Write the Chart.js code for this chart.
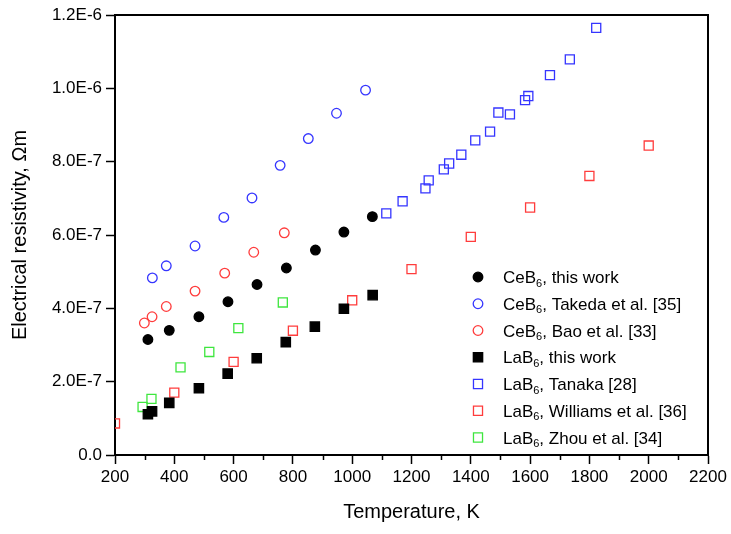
<!DOCTYPE html>
<html>
<head>
<meta charset="utf-8">
<script src="https://cdn.jsdelivr.net/npm/chart.js@4"></script>
<style>
  html, body { margin: 0; padding: 0; background: #fff; }
  #wrap { width: 731px; height: 534px; }
</style>
</head>
<body>
<div id="wrap"><canvas id="myChart" width="731" height="534"></canvas></div>
<script>
// values
const tempCeThis = [311, 383, 483, 581, 679, 778, 876, 972, 1068];
const rhoCeThis = [3.15e-7, 3.40e-7, 3.77e-7, 4.18e-7, 4.65e-7, 5.10e-7, 5.59e-7, 6.08e-7, 6.50e-7];

const tempCeTakeda = [326, 373, 470, 567, 662, 757, 852, 947, 1045];
const rhoCeTakeda = [4.83e-7, 5.16e-7, 5.70e-7, 6.48e-7, 7.01e-7, 7.90e-7, 8.63e-7, 9.32e-7, 9.95e-7];

const tempCeBao = [299, 325, 373, 470, 570, 668, 771];
const rhoCeBao = [3.60e-7, 3.77e-7, 4.05e-7, 4.47e-7, 4.96e-7, 5.53e-7, 6.06e-7];

const tempLaThis = [311, 325, 383, 483, 580, 678, 776, 874, 972, 1069];
const rhoLaThis = [1.11e-7, 1.19e-7, 1.42e-7, 1.82e-7, 2.22e-7, 2.64e-7, 3.08e-7, 3.50e-7, 3.99e-7, 4.36e-7];

const tempLaTanaka = [1115, 1170, 1247, 1258, 1309, 1327, 1368, 1415, 1465, 1493, 1532, 1583, 1594, 1667, 1734, 1823];
const rhoLaTanaka = [6.59e-7, 6.92e-7, 7.27e-7, 7.49e-7, 7.79e-7, 7.95e-7, 8.19e-7, 8.58e-7, 8.82e-7, 9.34e-7, 9.29e-7, 9.68e-7, 9.79e-7, 10.36e-7, 10.79e-7, 11.65e-7];

const tempLaWilliams = [200, 400, 600, 800, 1000, 1200, 1400, 1600, 1800, 2000];
const rhoLaWilliams = [0.86e-7, 1.70e-7, 2.54e-7, 3.39e-7, 4.22e-7, 5.07e-7, 5.95e-7, 6.75e-7, 7.61e-7, 8.44e-7];

const tempLaZhou = [293, 323, 421, 518, 616, 766];
const rhoLaZhou = [1.31e-7, 1.53e-7, 2.39e-7, 2.81e-7, 3.46e-7, 4.16e-7];

const seriesLabels = [
  'CeB6, this work',
  'CeB6, Takeda et al. [35]',
  'CeB6, Bao et al. [33]',
  'LaB6, this work',
  'LaB6, Tanaka [28]',
  'LaB6, Williams et al. [36]',
  'LaB6, Zhou et al. [34]'
];

const xMin = 200, xMax = 2200, xStep = 200;
const yMin = 0, yMax = 1.2e-6, yStep = 2e-7;

const FONT = "'Liberation Sans', Arial, sans-serif";
const BLUE = '#3535ff';
const RED = '#ff3c3c';
const GREEN = '#3ee63e';

function pts(xs, ys) {
  return xs.map((x, i) => ({ x: x, y: ys[i] }));
}

function makeSet(label, xs, ys, style, color, filled, radius) {
  return {
    label: label,
    data: pts(xs, ys),
    pointStyle: style,
    pointRadius: radius,
    pointHoverRadius: radius,
    pointBorderWidth: 1.3,
    borderColor: color,
    backgroundColor: filled ? color : 'rgba(0,0,0,0)',
    clip: 0
  };
}

// frame, minor ticks and legend drawn on top
const extras = {
  id: 'extras',
  afterDraw(chart) {
    const ctx = chart.ctx;
    const a = chart.chartArea;
    const xs = chart.scales.x;
    ctx.save();
    ctx.strokeStyle = '#000';
    ctx.lineWidth = 2;
    ctx.beginPath();
    ctx.moveTo(a.left, a.top);
    ctx.lineTo(a.right, a.top);
    ctx.lineTo(a.right, a.bottom);
    ctx.stroke();

    ctx.lineWidth = 1.5;
    for (let v = xMin + xStep / 2; v < xMax; v += xStep) {
      const px = Math.round(xs.getPixelForValue(v)) + 0.5;
      ctx.beginPath();
      ctx.moveTo(px, a.bottom);
      ctx.lineTo(px, a.bottom + 5);
      ctx.stroke();
    }

    // legend
    const lx = 478, tx = 503, y0 = 277, dy = 26.75;
    chart.data.datasets.forEach((ds, i) => {
      const y = y0 + i * dy;
      ctx.fillStyle = ds.backgroundColor;
      ctx.strokeStyle = ds.borderColor;
      ctx.lineWidth = ds.pointBorderWidth;
      Chart.helpers.drawPoint(ctx, {
        pointStyle: ds.pointStyle,
        radius: ds.pointRadius,
        borderWidth: ds.pointBorderWidth
      }, lx, y);

      const m = ds.label.match(/^(\w+B)(6)(.*)$/);
      ctx.fillStyle = '#000';
      ctx.textBaseline = 'alphabetic';
      ctx.textAlign = 'left';
      ctx.font = '17px ' + FONT;
      ctx.fillText(m[1], tx, y + 6);
      let w = ctx.measureText(m[1]).width;
      ctx.font = '11px ' + FONT;
      ctx.fillText(m[2], tx + w, y + 9.5);
      w += ctx.measureText(m[2]).width;
      ctx.font = '17px ' + FONT;
      ctx.fillText(m[3], tx + w, y + 6);
    });
    ctx.restore();
  }
};

const ctx = document.getElementById('myChart').getContext('2d');
const myChart = new Chart(ctx, {
  type: 'scatter',
  data: {
    datasets: [
      makeSet(seriesLabels[0], tempCeThis, rhoCeThis, 'circle', '#000', true, 4.8),
      makeSet(seriesLabels[1], tempCeTakeda, rhoCeTakeda, 'circle', BLUE, false, 4.8),
      makeSet(seriesLabels[2], tempCeBao, rhoCeBao, 'circle', RED, false, 4.8),
      makeSet(seriesLabels[3], tempLaThis, rhoLaThis, 'rect', '#000', true, 6.6),
      makeSet(seriesLabels[4], tempLaTanaka, rhoLaTanaka, 'rect', BLUE, false, 6.4),
      makeSet(seriesLabels[5], tempLaWilliams, rhoLaWilliams, 'rect', RED, false, 6.4),
      makeSet(seriesLabels[6], tempLaZhou, rhoLaZhou, 'rect', GREEN, false, 6.4)
    ]
  },
  options: {
    responsive: false,
    animation: false,
    layout: { padding: { top: 15, right: 23, left: 0, bottom: 0 } },
    plugins: {
      legend: { display: false },
      tooltip: { enabled: false }
    },
    scales: {
      x: {
        type: 'linear',
        min: xMin,
        max: xMax,
        afterFit: function (scale) { scale.height = 79; },
        ticks: {
          stepSize: xStep,
          color: '#000',
          font: { family: FONT, size: 17 },
          padding: 3,
          maxRotation: 0,
          callback: v => String(v)
        },
        grid: { drawOnChartArea: false, drawTicks: true, tickLength: 9, tickColor: '#000', tickWidth: 1.5 },
        border: { color: '#000', width: 2 },
        title: {
          display: true,
          text: 'Temperature, K',
          color: '#000',
          font: { family: FONT, size: 20, lineHeight: 1.2 },
          padding: { top: 0, bottom: 10 }
        }
      },
      y: {
        type: 'linear',
        min: yMin,
        max: yMax,
        afterFit: function (scale) { scale.width = 115; },
        ticks: {
          stepSize: yStep,
          color: '#000',
          font: { family: FONT, size: 17 },
          padding: 4,
          callback: v => (Math.abs(v) < 1e-12 ? '0.0' : v.toExponential(1).toUpperCase())
        },
        grid: { drawOnChartArea: false, drawTicks: true, tickLength: 9, tickColor: '#000', tickWidth: 1.5 },
        border: { color: '#000', width: 2 },
        title: {
          display: true,
          text: 'Electrical resistivity, \u03A9m',
          color: '#000',
          font: { family: FONT, size: 20, lineHeight: 1.2 },
          padding: { top: 8, bottom: 0 }
        }
      }
    }
  },
  plugins: [extras]
});
</script>
</body>
</html>
